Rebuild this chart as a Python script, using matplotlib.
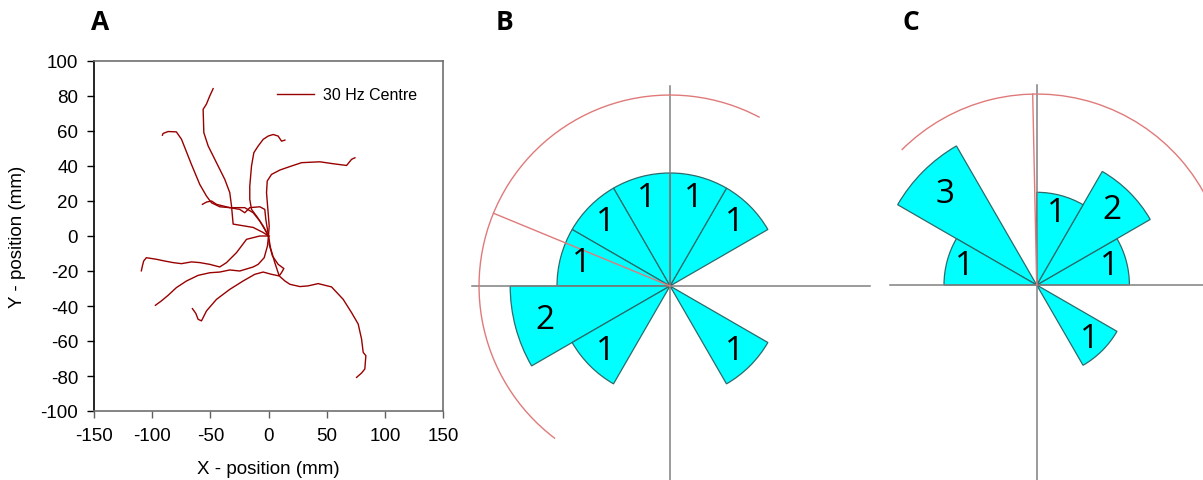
import matplotlib
matplotlib.use("Agg")
import matplotlib.pyplot as plt
from matplotlib.lines import Line2D
from matplotlib.patches import Arc, Wedge
import numpy as np

# --- panel A: walking tracks (mm), all starting at the origin ---
tracks_x = [
    [0, -4.6, -13.2, -30.4, -31.8, -33.3, -37.6, -44.8, -51.9, -55.6, -56.2, -53.4, -50.5, -47.6],
    [0, -3.2, -7.5, -13.2, -20.4, -33.3, -41.9, -49.0, -53.3, -59.1, -66.3, -74.8, -79.2, -86.3, -90.6, -91.2],
    [0, -4.6, -10.3, -14.6, -16.1, -16.1, -14.6, -12.6, -8.9, -4.6, -0.3, 4.0, 8.3, 11.2, 14.1],
    [0, 0.6, -0.3, -1.7, -1.1, 2.6, 9.8, 19.8, 28.4, 44.2, 55.6, 67.1, 71.4, 74.3],
    [0, -2.3, -3.2, -7.5, -16.1, -20.4, -24.7, -33.3, -44.7, -49.0, -53.3, -56.8],
    [0, -7.5, -18.9, -27.5, -36.1, -41.9, -50.5, -59.1, -66.2, -74.8, -82.0, -89.2, -96.4, -105.0, -107.3, -108.4, -109.3],
    [0, -0.9, -3.7, -8.9, -13.2, -24.7, -33.3, -41.9, -50.5, -60.5, -70.5, -79.2, -86.3, -92.1, -97.2],
    [0, 1.7, 5.4, 9.2, 2.6, -4.6, -11.8, -21.8, -33.3, -44.7, -53.3, -57.6, -60.5, -62.5, -65.4],
    [0, 0.6, 3.4, 8.3, 13.2, 11.2, 9.2, 14.1, 18.4, 27.0, 34.1, 42.7, 54.2, 64.2, 71.4, 77.1, 80.0, 81.4, 83.7, 82.8, 80.0, 75.7],
]
tracks_y = [
    [0, 2.0, 4.9, 6.8, 17.2, 24.8, 32.4, 42.0, 51.5, 59.1, 72.4, 75.3, 80.0, 84.2],
    [0, 3.8, 8.6, 13.3, 16.2, 16.2, 16.7, 19.0, 22.8, 29.5, 41.0, 55.3, 59.5, 59.7, 58.6, 57.6],
    [0, 5.7, 11.4, 15.2, 20.9, 28.5, 40.0, 47.6, 51.4, 55.2, 57.1, 58.0, 57.1, 54.2, 54.8],
    [0, 5.7, 13.3, 24.7, 31.4, 35.2, 37.7, 40.0, 41.9, 42.4, 41.3, 40.3, 43.8, 44.7],
    [0, 9.5, 15.2, 16.7, 16.2, 13.3, 15.2, 16.2, 18.1, 20.0, 19.4, 18.1],
    [0, 0, -1.9, -9.5, -15.2, -17.7, -16.2, -15.2, -14.8, -15.8, -15.2, -14.3, -13.3, -12.4, -14.3, -17.1, -19.9],
    [0, -5.7, -12.4, -16.2, -17.7, -20.0, -19.4, -20.6, -21.0, -22.5, -25.7, -29.5, -33.9, -37.1, -39.6],
    [0, -6.7, -15.2, -22.8, -21.9, -20.6, -21.9, -25.7, -30.5, -36.2, -42.8, -48.5, -47.6, -44.2, -41.5],
    [0, -4.8, -11.4, -16.2, -18.6, -20.9, -22.8, -25.7, -27.6, -28.9, -28.5, -27.2, -29.1, -36.2, -43.8, -50.3, -58.9, -66.5, -68.4, -76.0, -78.3, -80.8],
]
track_label = "30 Hz Centre"
x_ticks = [-150, -100, -50, 0, 50, 100, 150]
y_ticks = [-100, -80, -60, -40, -20, 0, 20, 40, 60, 80, 100]

# --- panels B and C: heading histograms, 30 degree bins (start angle, counts) ---
b_bin_start = [30, 60, 90, 120, 150, 180, 210, 300]
b_counts = [1, 1, 1, 1, 1, 2, 1, 1]
b_mean_angle = 157.6
b_arc_span = (62, 233)
b_circle_r = 1.69

c_bin_start = [0, 30, 60, 120, 150, 300]
c_counts = [1, 2, 1, 3, 1, 1]
c_mean_angle = 91.2
c_arc_span = (10, 135)
c_circle_r = 2.06

BIN_WIDTH = 30

W, H = 1203, 481
fig = plt.figure(figsize=(W / 100, H / 100), dpi=100)
fig.patch.set_facecolor("white")

TRACK_COLOR = "#990000"
CIRCLE_COLOR = "#e07a7a"
AXIS_GRAY = "#808080"


def px_axes(left, top, right, bottom):
    return fig.add_axes([left / W, 1 - bottom / H, (right - left) / W, (bottom - top) / H])


# ---------------- panel A ----------------
ax = px_axes(94, 62, 443, 412)
for xs, ys in zip(tracks_x, tracks_y):
    ax.plot(xs, ys, color=TRACK_COLOR, lw=1.0, solid_joinstyle="round")
ax.set_xlim(-150, 150)
ax.set_ylim(-100, 100)
ax.set_xticks(x_ticks)
ax.set_yticks(y_ticks)
ax.set_xticklabels([str(v) for v in x_ticks], fontsize=13.5, family="Liberation Sans")
ax.set_yticklabels([str(v) for v in y_ticks], fontsize=13.5, family="Liberation Sans")
ax.tick_params(axis="x", direction="out", length=5, pad=6.5, color="#606060", width=1)
ax.tick_params(axis="y", direction="out", length=5, pad=6.5, color="black", width=1)
ax.spines["left"].set_color("black")
for side in ("top", "right", "bottom"):
    ax.spines[side].set_color("#707070")
for sp in ax.spines.values():
    sp.set_linewidth(1.2)

handle = Line2D([], [], color=TRACK_COLOR, lw=1.0)
ax.legend([handle], [track_label], loc="center left", bbox_to_anchor=((277 - 94) / 349, (412 - 96) / 350),
          frameon=False, borderpad=0, borderaxespad=0, handlelength=2.3, handletextpad=0.55,
          prop={"family": "Liberation Sans", "size": 11.5})

fig.text(268 / W, 1 - 470 / H, "X - position (mm)", ha="center", va="center",
         fontsize=13.5, family="Liberation Sans")
fig.text(18 / W, 1 - 237 / H, "Y - position (mm)", ha="center", va="center", rotation=90,
         fontsize=13.5, family="Liberation Sans")


# ---------------- panels B and C ----------------
def rose(left, right, cx, cy, unit, starts, counts, mean_angle, arc_span, circle_r, hline_left):
    rax = px_axes(left, 40, right, H)
    rax.set_xlim((left - cx) / unit, (right - cx) / unit)
    rax.set_ylim(-(H - cy) / unit, (cy - 40) / unit)
    rax.axis("off")

    for start, n in zip(starts, counts):
        r = np.sqrt(n)
        rax.add_patch(Wedge((0, 0), r, start, start + BIN_WIDTH, facecolor="#00ffff",
                            edgecolor="#2b6b6b", lw=0.9, zorder=2))
        mid = np.deg2rad(start + BIN_WIDTH / 2)
        rax.text(0.81 * r * np.cos(mid), 0.81 * r * np.sin(mid), str(n), ha="center", va="center",
                 fontsize=24, family="Open Sans", color="black", zorder=5)

    # crosshair through the origin
    rax.plot([-hline_left / unit, 200 / unit], [0, 0], color=AXIS_GRAY, lw=1.1, zorder=3)
    rax.plot([0, 0], [200 / unit, -(H - cy + 10) / unit], color=AXIS_GRAY, lw=1.1, zorder=3)

    rax.add_patch(Arc((0, 0), 2 * circle_r, 2 * circle_r, theta1=arc_span[0], theta2=arc_span[1],
                      color=CIRCLE_COLOR, lw=1.0, zorder=4))
    a = np.deg2rad(mean_angle)
    rax.plot([0, circle_r * np.cos(a)], [0, circle_r * np.sin(a)], color=CIRCLE_COLOR, lw=1.0, zorder=4)
    return rax


rose(470, 872, 670, 287, 113, b_bin_start, b_counts, b_mean_angle, b_arc_span, b_circle_r, 198)
rose(872, 1203, 1036.7, 286, 92.7, c_bin_start, c_counts, c_mean_angle, c_arc_span, c_circle_r, 147)

for label, xpx in (("A", 100), ("B", 504), ("C", 911)):
    fig.text(xpx / W, 1 - 22 / H, label, ha="center", va="center", fontsize=19,
             fontweight="bold", family="Open Sans")

fig.savefig("out.png", dpi=100, facecolor="white")
